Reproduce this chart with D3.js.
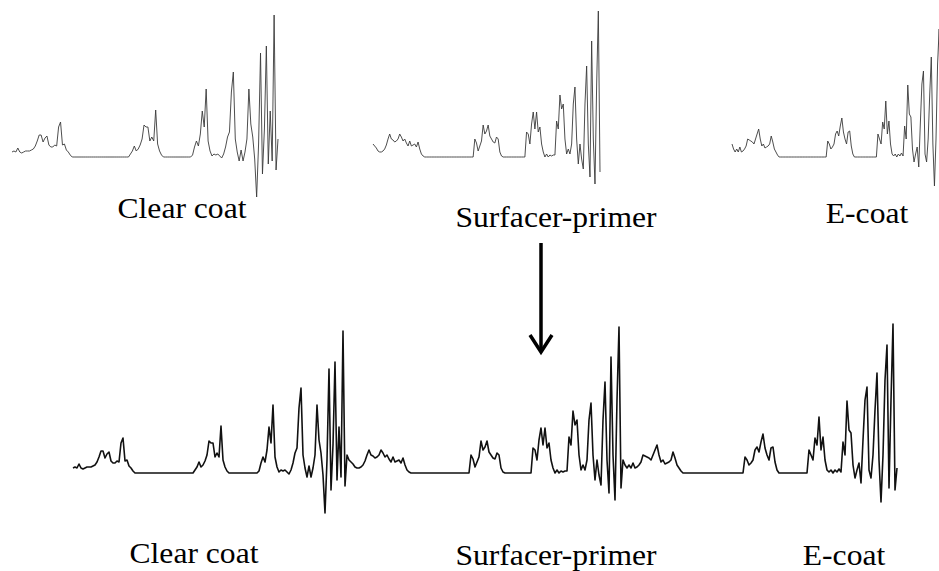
<!DOCTYPE html>
<html>
<head>
<meta charset="utf-8">
<script src="https://cdn.jsdelivr.net/npm/d3@7"></script>
<style>
  html, body { margin: 0; padding: 0; background: #fff; }
  svg { display: block; }
</style>
</head>
<body>
<svg id="chart" width="939" height="571"></svg>
<script>
// ---------------- DATA ----------------
const categories = ["Clear coat", "Surfacer-primer", "E-coat"];

// intensity per channel (baseline = 0)
const clearCoat = [
  5, 6, 5, 9, 5, 4, 5, 6, 6, 6, 7, 8, 11, 16, 22, 22, 15, 19, 21, 12,
  10, 10, 12, 11, 30, 35, 12, 13, 7, 5, 2,
  0, 0, 0, 0, 0, 0, 0, 0, 0, 0, 0, 0, 0, 0, 0, 0, 0, 0, 0, 0, 0, 0, 0, 0, 0, 0, 0, 0, 0, 0,
  3, 6, 11, 6, 8, 12, 18, 32, 30, 30, 16, 20, 16, 47, 13, 6, 2,
  0, 0, 0, 0, 0, 0, 0, 0, 0, 0, 0, 0, 0, 0, 0,
  2, 10, 16, 11, 23, 46, 30, 68, 16, 6, 1, 3, 2, 3, 1, -1, 3, 10, 20, 25,
  65, 85, 18, 5, -4, 7, -4, 5, 18, 68, 33, 20, -2, -40, 13, 104, -17, 28, 111, -7,
  46, -4, 142, -13, 18
];

const surfacerPrimer = [
  13, 11, 9, 6, 5, 5, 6, 8, 12, 18, 23, 18, 17, 15, 16, 18, 23, 20, 16, 18,
  14, 11, 16, 11, 12, 13, 10, 15, 8, 3, 1,
  0, 0, 0, 0, 0, 0, 0, 0, 0, 0, 0, 0, 0, 0, 0, 0, 0, 0, 0, 0, 0, 0, 0, 0, 0, 0, 0, 0, 0, 0,
  18, 14, 6, 11, 16, 32, 23, 26, 32, 21, 18, 15, 14, 20, 18, 5, 1,
  0, 0, 0, 0, 0, 0, 0, 0, 0, 0, 0, 0, 0, 0,
  25, 23, 13, 33, 45, 28, 45, 25, 30, 13, 5, 0, 3, 0, 2, 1, 2, 2, 36, 28,
  62, 48, 53, 18, 3, 8, 3, 13, 53, 70, 18, -7, 13, -2, -12, 53, 91, 13, -20, 116,
  18, -27, 73, 146, -15
];

const eCoat = [
  13, 8, 5, 8, 5, 10, 5, 6, 8, 11, 18, 17, 16, 15, 13, 18, 23, 28, 18, 11,
  13, 9, 10, 11, 13, 21, 15, 8, 5, 2,
  0, 0, 0, 0, 0, 0, 0, 0, 0, 0, 0, 0, 0, 0, 0, 0, 0, 0, 0, 0, 0, 0, 0, 0, 0, 0, 0, 0, 0, 0, 0,
  16, 13, 8, 10, 13, 23, 26, 21, 31, 39, 25, 18, 13, 25, 26, 11, 3,
  0, 0, 0, 0, 0, 0, 0, 0, 0, 0, 0, 0, 0, 0, 0,
  23, 18, 13, 35, 28, 56, 23, 36, 13, 3, 1, 3, 0, 3, 1, 4, 1, 31, 18, 72,
  43, 40, 8, -5, 3, 10, -10, 33, 73, 86, 3, -5, 18, 63, 100, 13, -29, 18, 93, 128,
  -15, 73, 149, -17, 5
];

const spectra = [clearCoat, surfacerPrimer, eCoat];
const combined = [].concat(clearCoat, surfacerPrimer, eCoat);

// ---------------- LAYOUT ----------------
const svg = d3.select("#chart");
const yDomain = [-50, 150];

// top: individual spectra
const topX = [[12, 278], [373, 600], [732, 947]];
const topBase = 157;
const yTop = d3.scaleLinear().domain(yDomain).range([topBase + 50, topBase - 150]);

spectra.forEach((s, k) => {
  const x = d3.scaleLinear().domain([0, s.length - 1]).range(topX[k]);
  const line = d3.line().x((d, i) => x(i)).y(d => yTop(d));
  svg.append("path")
    .datum(s)
    .attr("d", line)
    .attr("fill", "none")
    .attr("stroke", "#3a3a3a")
    .attr("stroke-width", 0.9)
    .attr("stroke-linejoin", "round");
});

// bottom: concatenated spectra
const botBase = 473;
const xBot = d3.scaleLinear().domain([0, combined.length - 1]).range([73, 897]);
const yBot = d3.scaleLinear().domain(yDomain).range([botBase + 50, botBase - 150]);
svg.append("path")
  .datum(combined)
  .attr("d", d3.line().x((d, i) => xBot(i)).y(d => yBot(d)))
  .attr("fill", "none")
  .attr("stroke", "#111")
  .attr("stroke-width", 1.6)
  .attr("stroke-linejoin", "round");

// labels
const topLabelPos = [[182, 218], [556, 227], [867, 223]];
const botLabelPos = [[194, 563], [556, 565], [844, 565]];
function addLabels(pos) {
  categories.forEach((c, k) => {
    svg.append("text")
      .attr("transform", `translate(${pos[k][0]},${pos[k][1]}) scale(1.09,1)`)
      .attr("text-anchor", "middle")
      .attr("font-family", "'Liberation Serif', 'Times New Roman', serif")
      .attr("font-size", 29)
      .attr("fill", "#000")
      .text(c);
  });
}
addLabels(topLabelPos);
addLabels(botLabelPos);

// arrow
svg.append("line")
  .attr("x1", 541).attr("y1", 243).attr("x2", 541).attr("y2", 351)
  .attr("stroke", "#000").attr("stroke-width", 3.5);
svg.append("path")
  .attr("d", "M530,335 L541,352 L552,335")
  .attr("fill", "none").attr("stroke", "#000").attr("stroke-width", 3.5)
  .attr("stroke-linejoin", "miter");
</script>
</body>
</html>
